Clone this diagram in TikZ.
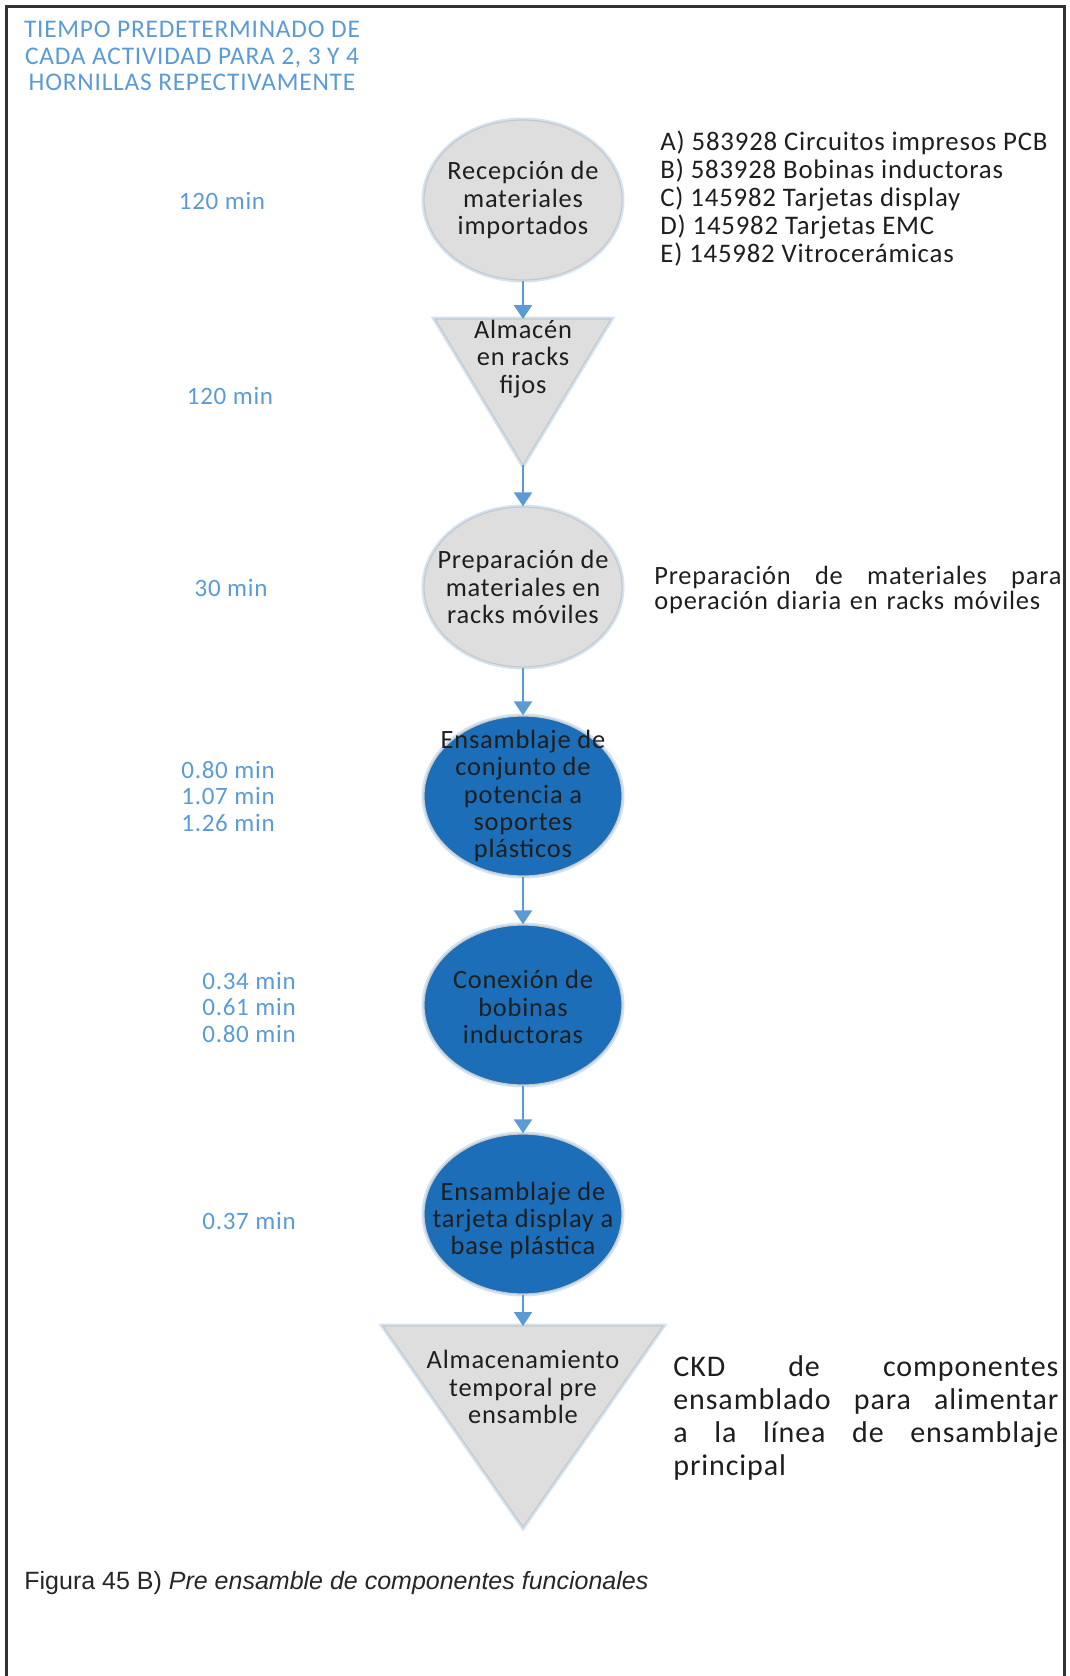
\documentclass[tikz,border=0pt]{standalone}
\usepackage{fontspec}
\setmainfont{Carlito}[LetterSpace=3]
\newfontfamily\capfont{Liberation Sans}
\usepackage{tikz}
\usetikzlibrary{shapes.geometric,arrows.meta}
\definecolor{flowblue}{RGB}{91,155,213}
\definecolor{opblue}{RGB}{27,110,183}
\definecolor{boxgray}{RGB}{222,222,222}
\definecolor{rimgray}{RGB}{200,200,200}
\definecolor{glowblue}{RGB}{210,228,244}
\definecolor{inkgray}{RGB}{30,30,30}
\definecolor{framegray}{RGB}{50,50,50}

\begin{document}
\begin{tikzpicture}[x=0.5pt, y=-0.5pt,
    act/.style={ellipse, draw=rimgray, line width=0.6pt, minimum width=99pt, minimum height=80pt,
        inner sep=0pt, preaction={draw=glowblue, line width=2.5pt}},
    acttext/.style={align=center, text=inkgray, inner sep=0pt, font=\fontsize{13.2}{13.6}\selectfont},
    store/.style={fill=boxgray, draw=rimgray, line width=0.6pt, preaction={draw=glowblue, line width=2.5pt}},
    timing/.style={align=center, text=flowblue, font=\fontsize{12.5}{13.25}\selectfont},
    flow/.style={draw=flowblue, line width=1pt, -{Triangle[width=9pt,length=7pt]}}]
    \useasboundingbox (0,0) rectangle (1070,1676);
    \draw[framegray, line width=1.5pt] (6,1676) -- (6,6) -- (1064,6) -- (1064,1676);

    % title
    \node[align=center, text=flowblue, font=\fontsize{12.7}{13.3}\selectfont] (head) at (192,56)
        {TIEMPO PREDETERMINADO DE\\CADA ACTIVIDAD PARA 2, 3 Y 4\\HORNILLAS REPECTIVAMENTE};

    % activities
    \node[act, fill=boxgray] (rec) at (523,200) {};
    \node[acttext] (rec-t) at (rec) {Recepción de\\materiales\\importados};
    \coordinate (alm top) at (523,319);
    \coordinate (alm tip) at (523,465);
    \draw[store] (435,319) -- (611,319) -- (alm tip) -- cycle;
    \node[acttext] (alm) at (523,359) {Almacén\\en racks\\fijos};
    \node[act, fill=boxgray] (prep) at (523,587) {};
    \node[acttext] (prep-t) at (prep) {Preparación de\\materiales en\\racks móviles};
    \node[act, fill=opblue] (ens) at (523,796) {};
    \node[acttext] (ens-t) at (ens) {Ensamblaje de\\conjunto de\\potencia a\\soportes\\plásticos};
    \node[act, fill=opblue] (con) at (523,1005) {};
    \node[acttext] (con-t) at ([yshift=-1pt]con) {Conexión de\\bobinas\\inductoras};
    \node[act, fill=opblue] (tarj) at (523,1214) {};
    \node[acttext] (tarj-t) at ([yshift=-3.2pt]tarj) {Ensamblaje de\\tarjeta display a\\base plástica};
    \coordinate (temp top) at (523,1326);
    \coordinate (temp tip) at (523,1527);
    \draw[store] (383,1326) -- (663,1326) -- (temp tip) -- cycle;
    \node[acttext] (temp) at (523,1387) {Almacenamiento\\temporal pre\\ensamble};

    % connectors
    \draw[flow] (rec.south) -- (alm top);
    \draw[flow] (alm tip) -- (prep.north);
    \draw[flow] (prep.south) -- (ens.north);
    \draw[flow] (ens.south) -- (con.north);
    \draw[flow] (con.south) -- (tarj.north);
    \draw[flow] (tarj.south) -- (temp top);

    % times
    \node[timing] (t1) at (222,201) {120 min};
    \node[timing] (t2) at (230,396) {120 min};
    \node[timing] (t3) at (231,588) {30 min};
    \node[timing] (t4) at (228,796) {0.80 min\\1.07 min\\1.26 min};
    \node[timing] (t5) at (249,1007) {0.34 min\\0.61 min\\0.80 min};
    \node[timing] (t6) at (249,1221) {0.37 min};

    % notes
    \node[anchor=west, align=left, inner sep=0pt, text=inkgray, font=\fontsize{13.4}{14}\selectfont] (lista) at (660,199)
        {A) 583928 Circuitos impresos PCB\\B) 583928 Bobinas inductoras\\C) 145982 Tarjetas display\\D) 145982 Tarjetas EMC\\E) 145982 Vitrocerámicas};
    \node[anchor=west, align=left, text width=203.5pt, inner sep=0pt, text=inkgray, font=\fontsize{13.2}{12.9}\selectfont] (nota1) at (654,590)
        {Preparación\hfill de\hfill materiales\hfill para\\operación diaria en racks móviles};
    \node[anchor=west, align=left, text width=192.5pt, inner sep=0pt, text=inkgray, font=\fontsize{15}{16.5}\selectfont] (nota2) at (673,1418)
        {CKD\hfill de\hfill componentes\\ensamblado\hfill para\hfill alimentar\\a\hfill la\hfill línea\hfill de\hfill ensamblaje\\principal};

    % caption
    \node[anchor=west, inner sep=0pt, text=black!85, font=\capfont\fontsize{12.5}{15}\selectfont] (cap) at (24,1583)
        {Figura 45 B) \textit{Pre ensamble de componentes funcionales}};
\end{tikzpicture}
\end{document}
